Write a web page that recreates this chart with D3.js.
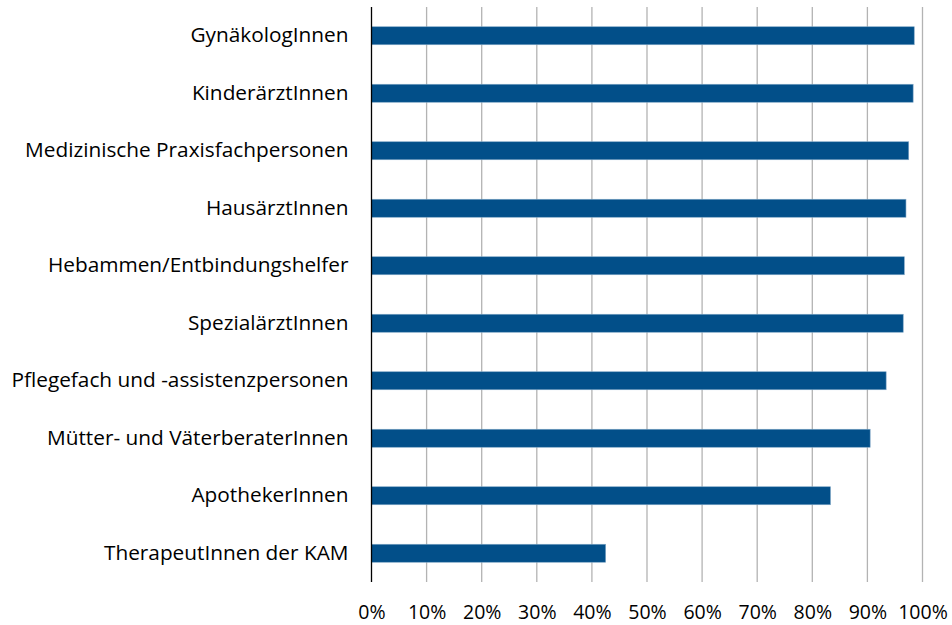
<!DOCTYPE html>
<html><head><meta charset="utf-8">
<script src="https://cdn.jsdelivr.net/npm/d3@7"></script>
<style>body{margin:0;background:#fff}svg{display:block}text{font-family:"Open Sans",sans-serif;fill:#000}</style>
</head><body><svg id="c" width="952" height="625"></svg>
<script>
const categories = ["GynäkologInnen","KinderärztInnen","Medizinische Praxisfachpersonen","HausärztInnen","Hebammen/Entbindungshelfer","SpezialärztInnen","Pflegefach und -assistenzpersonen","Mütter- und VäterberaterInnen","ApothekerInnen","TherapeutInnen der KAM"];
const values = [98.5,98.3,97.5,97.0,96.7,96.5,93.4,90.5,83.3,42.5];
const tickValues = [0,10,20,30,40,50,60,70,80,90,100];

const svg = d3.select("#c");
const pL = 371.5, pR = 922.5, pT = 7, pB = 582;
const x = d3.scaleLinear().domain([0,100]).range([pL,pR]);
const y = d3.scaleBand().domain(categories).range([pT,pB]).paddingInner(0.687).paddingOuter(0.3435);

// gridlines
svg.append("g").selectAll("line").data(tickValues.slice(1)).join("line")
  .attr("x1",d=>x(d)).attr("x2",d=>x(d)).attr("y1",pT).attr("y2",pB)
  .attr("stroke","#b3b3b3").attr("stroke-width",1.3);

// bars
svg.append("g").selectAll("rect").data(values).join("rect")
  .attr("x",x(0)).attr("y",(d,i)=>y(categories[i]))
  .attr("width",d=>x(d)-x(0)).attr("height",y.bandwidth())
  .attr("fill","#024f89").attr("stroke","#7fa6c6").attr("stroke-width",0.6);

// axis line
svg.append("line").attr("x1",pL).attr("x2",pL).attr("y1",pT).attr("y2",pB)
  .attr("stroke","#000").attr("stroke-width",1.3);

// x tick labels
const xa = d3.axisBottom(x).tickValues(tickValues).tickFormat(d=>d+"%").tickSize(0).tickPadding(0);
const gx = svg.append("g").attr("transform",`translate(0,${pB})`).call(xa);
gx.select(".domain").remove();
gx.selectAll("text").attr("font-size",19.5).attr("fill","#000").attr("dy",0).attr("y",37)
  .style("font-family","'Open Sans',sans-serif");

// category labels
const ya = d3.axisLeft(y).tickSize(0).tickPadding(0);
const gy = svg.append("g").attr("transform",`translate(${pL-23},0)`).call(ya);
gy.select(".domain").remove();
gy.selectAll("text").attr("font-size",20.8).attr("fill","#000")
  .style("font-family","'Open Sans',sans-serif");
</script></body></html>
